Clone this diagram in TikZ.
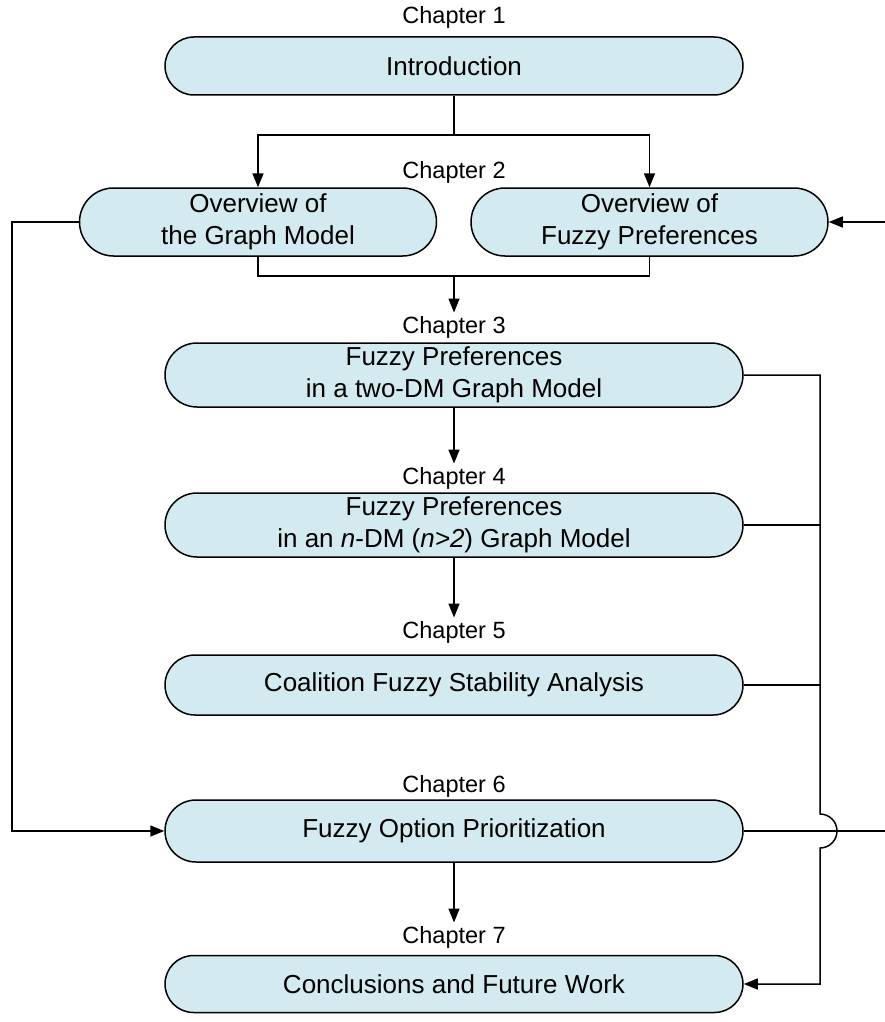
\documentclass[tikz,border=0pt]{standalone}
\usepackage{fontspec}
\setmainfont{Liberation Sans}
\usetikzlibrary{shapes.misc,arrows.meta}

\definecolor{boxfill}{RGB}{210,234,240}
\def \midx {454}
\def \busx {820}
\def \hop {17}
\tikzstyle{chapter}=[rounded rectangle, draw, fill=boxfill, line width=1.5pt, inner sep=0pt, align=center, font=\fontsize{26}{31.5}\selectfont]
\tikzstyle{wide}=[chapter, minimum width=578pt]
\tikzstyle{half}=[chapter, minimum width=357pt]
\tikzstyle{tag}=[font=\fontsize{23.5}{28}\selectfont]
\tikzstyle{flow}=[line width=1.5pt, -{Triangle[length=14pt,width=11pt]}]
\tikzstyle{link}=[line width=1.5pt]

\begin{document}
\begin{tikzpicture}[x=1pt, y=-1pt]
\useasboundingbox (0,0) rectangle (885,1022);

\node[wide, minimum height=58pt] (C1) at (\midx, 66) {Introduction};
\node[half, minimum height=68pt] (C2a) at (258, 222) {Overview of\\the Graph Model};
\node[half, minimum height=68pt] (C2b) at (649.5, 222) {Overview of\\Fuzzy Preferences};
\node[wide, minimum height=64pt] (C3) at (\midx, 375) {Fuzzy Preferences\\in a two-DM Graph Model};
\node[wide, minimum height=64pt] (C4) at (\midx, 525) {Fuzzy Preferences\\in an \textit{n}-DM (\textit{n>2}) Graph Model};
\node[wide, minimum height=60pt] (C5) at (\midx, 685) {Coalition Fuzzy Stability Analysis};
\node[wide, minimum height=62pt] (C6) at (\midx, 831) {Fuzzy Option Prioritization};
\node[wide, minimum height=57pt] (C7) at (\midx, 984) {Conclusions and Future Work};

\node[tag] (T1) at (\midx, 17) {Chapter 1};
\node[tag] (T2) at (\midx, 172) {Chapter 2};
\node[tag] (T3) at (\midx, 327) {Chapter 3};
\node[tag] (T4) at (\midx, 478) {Chapter 4};
\node[tag] (T5) at (\midx, 632) {Chapter 5};
\node[tag] (T6) at (\midx, 786) {Chapter 6};
\node[tag] (T7) at (\midx, 937) {Chapter 7};

% split and merge points
\coordinate (split) at (\midx, 135);
\coordinate (merge) at (\midx, 276);
\coordinate (leftbus) at (12, 222);
\coordinate (rightin) at (885, 222);
\coordinate (rightout) at (885, 831);
\coordinate (busend) at (\busx, 984);

\draw[link] (C1.south) -- (split);
\draw[flow] (split) -| (C2a.north);
\draw[flow] (split) -| (C2b.north);

\draw[link] (C2a.south) |- (merge) -| (C2b.south);
\draw[flow] (merge) -- (T3.north);

\foreach \x/\y in {3/4, 4/5, 6/7}
    \draw[flow] (C\x.south) -- (T\y.north);

% left return line
\draw[flow] (C2a.west) -- (leftbus) |- (C6.west);

% right bus with hop over the chapter 6 line
\draw[flow] (C3.east) -| (\busx, 831-\hop) arc (-90:90:\hop) -- (busend) -- (C7.east);
\foreach \x in {4, 5}
    \draw[link] (C\x.east) -- (C\x.east -| busend);

\draw[link] (C6.east) -- (rightout);
\draw[flow] (rightin) -- (C2b.east);

\end{tikzpicture}
\end{document}
